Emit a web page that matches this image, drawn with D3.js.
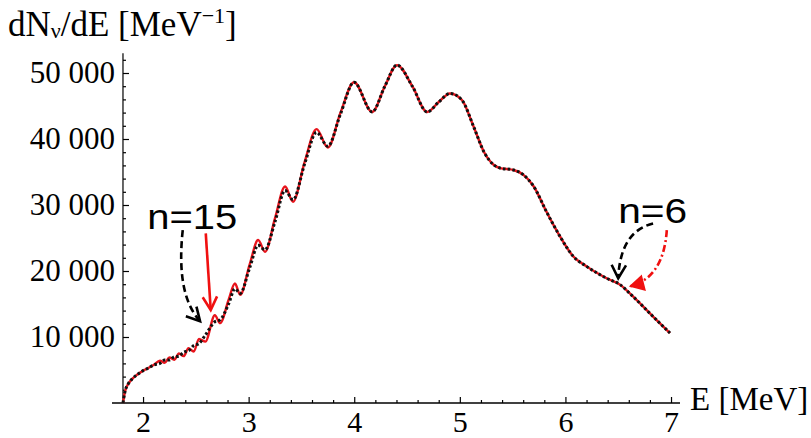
<!DOCTYPE html>
<html>
<head>
<meta charset="utf-8">
<script src="https://cdn.jsdelivr.net/npm/d3@7"></script>
<style>
  body { margin: 0; background: #fff; }
  svg { display: block; }
</style>
</head>
<body>
<svg id="chart" width="811" height="438"></svg>
<script>
// energy grid (MeV) and the two spectra
const energy = [1.81, 1.83, 1.86, 1.90, 1.95, 2.00, 2.05, 2.10, 2.16, 2.205, 2.25, 2.295, 2.34, 2.385, 2.43, 2.48, 2.53, 2.59,
  2.68, 2.73, 2.81, 2.87, 2.92, 3.01, 3.09, 3.155, 3.25, 3.345, 3.42, 3.53, 3.643, 3.75, 3.87, 3.998, 4.17, 4.29, 4.405,
  4.55, 4.69, 4.80, 4.907, 5.02, 5.13, 5.23, 5.32, 5.38, 5.51, 5.60, 5.70, 5.82, 5.95, 6.075, 6.20, 6.39, 6.52, 6.61, 6.83, 6.99];

const redVals = [0, 1800, 2900, 3700, 4350, 4900, 5300, 5750, 6400, 6100, 6900, 6550, 7500, 7100, 8300, 7800, 9700, 9300,
  13300, 12100, 15600, 18100, 16400, 21000, 24700, 22900, 28000, 32800, 30500, 36500, 41500, 38700, 44000, 48600, 44100, 48000, 51200,
  48000, 44100, 45600, 46900, 45900, 41900, 38000, 36100, 35600, 35300, 34600, 32800, 29000, 25200, 22200, 20700, 18900, 17900, 16600, 13100, 10600];

const blackVals = [0, 1800, 2900, 3700, 4350, 4900, 5300, 5750, 6000, 6500, 6500, 7000, 7100, 7700, 7900, 8700, 9000, 10300,
  12300, 12600, 15000, 17300, 16600, 20500, 23900, 23200, 27500, 32200, 30800, 36200, 41000, 38900, 43800, 48600, 44100, 48000, 51200,
  48000, 44100, 45600, 46900, 45900, 41900, 38000, 36100, 35600, 35300, 34600, 32800, 29000, 25200, 22200, 20700, 18900, 17900, 16600, 13100, 10600];

const yTicks = [10000, 20000, 30000, 40000, 50000];
const xTicks = [2, 3, 4, 5, 6, 7];

const svg = d3.select("#chart");
const serif = "'Liberation Serif', 'Times New Roman', serif";
const sans = "'Liberation Sans', Arial, sans-serif";

const x = d3.scaleLinear().domain([1.706, 7.085]).range([112, 680]);
const y = d3.scaleLinear().domain([0, 53000]).range([403, 53.2]);
const originE = 1.81;

// axes -------------------------------------------------------------
const gx = svg.append("g").attr("transform", `translate(0, ${y(0)})`);
gx.call(d3.axisBottom(x).tickValues(xTicks).tickSize(-6).tickPadding(8).tickFormat(d3.format("d")));
gx.append("g").call(d3.axisBottom(x)
  .tickValues(d3.range(2.2, 7, 0.2).filter(v => Math.abs(v - Math.round(v)) > 0.01))
  .tickSize(-3).tickFormat(""));
gx.selectAll(".domain").remove();
gx.append("line").attr("x1", x.range()[0]).attr("x2", x.range()[1]).attr("stroke", "#000").attr("stroke-width", 1.5);

const gy = svg.append("g").attr("transform", `translate(${x(originE)}, 0)`);
gy.call(d3.axisLeft(y).tickValues(yTicks).tickSize(-6).tickPadding(8)
  .tickFormat(d => d3.format(",")(d).replace(",", " ")));
gy.append("g").call(d3.axisLeft(y)
  .tickValues(d3.range(2000, 53000, 2000).filter(v => v % 10000 !== 0))
  .tickSize(-3).tickFormat(""));
gy.selectAll(".domain").remove();
gy.append("line").attr("y1", y(0)).attr("y2", y.range()[1]).attr("stroke", "#000").attr("stroke-width", 1.2);

svg.selectAll(".tick line").attr("stroke", "#000").attr("stroke-width", 1.2);
svg.selectAll(".tick text").attr("font-family", serif).attr("font-size", 31).attr("fill", "#000");
gx.selectAll(".tick text").attr("font-size", 30);

// axis titles
const title = svg.append("text").attr("x", 8).attr("y", 36)
  .attr("font-family", serif).attr("font-size", 35).attr("fill", "#000");
title.append("tspan").text("dN");
title.append("tspan").attr("font-size", 22).attr("dy", 2).text("ν");
title.append("tspan").attr("dy", -2).text("/dE [MeV");
title.append("tspan").attr("font-size", 22).attr("dy", -13).text("−1");
title.append("tspan").attr("dy", 13).text("]");

svg.append("text").attr("x", 690).attr("y", 410)
  .attr("font-family", serif).attr("font-size", 33).attr("fill", "#000")
  .text("E [MeV]");

// curves -----------------------------------------------------------
const line = d3.line().x(d => x(d[0])).y(d => y(d[1])).curve(d3.curveMonotoneX);

svg.append("path").datum(energy.map((e, i) => [e, redVals[i]]))
  .attr("d", line).attr("fill", "none").attr("stroke", "#e8141c").attr("stroke-width", 2.4);

svg.append("path").datum(energy.map((e, i) => [e, blackVals[i]]))
  .attr("d", line).attr("fill", "none").attr("stroke", "#111").attr("stroke-width", 3)
  .attr("stroke-dasharray", "2.6,2.2");

// annotations ------------------------------------------------------
const labels = [
  { text: "n=15", e: 2.04, v: 26400, len: 90 },
  { text: "n=6", e: 6.5, v: 27300, len: 69 }
];
svg.selectAll(".ann").data(labels).enter().append("text")
  .attr("class", "ann")
  .attr("x", d => x(d.e)).attr("y", d => y(d.v))
  .attr("font-family", sans).attr("font-size", 35).attr("fill", "#000")
  .attr("textLength", d => d.len).attr("lengthAdjust", "spacingAndGlyphs")
  .text(d => d.text);

// arrows as [start, control, tip] in data units
const arrows = [
  { pts: [[2.376, 26200], [2.31, 16400], [2.540, 12400]], color: "#000", dash: "7,4", head: "open" },
  { pts: [[2.594, 25700], [2.617, 20000], [2.641, 14100]], color: "#f01010", dash: null, head: "open" },
  { pts: [[6.83, 27200], [6.52, 26000], [6.50, 18900]], color: "#000", dash: "7,4", head: "open" },
  { pts: [[6.96, 26200], [6.93, 19000], [6.615, 17700]], color: "#f01010", dash: "7,3,2,3", head: "filled" }
];

arrows.forEach(a => {
  const p = a.pts.map(d => [x(d[0]), y(d[1])]);
  const path = d3.path();
  path.moveTo(p[0][0], p[0][1]);
  path.quadraticCurveTo(p[1][0], p[1][1], p[2][0], p[2][1]);
  const s = svg.append("path").attr("d", path.toString()).attr("fill", "none")
    .attr("stroke", a.color).attr("stroke-width", 2.6);
  if (a.dash) s.attr("stroke-dasharray", a.dash);

  // arrow head from the tangent at the tip
  const dx = p[2][0] - p[1][0], dy = p[2][1] - p[1][1];
  const ang = Math.atan2(dy, dx);
  const L = 15, spread = 0.5;
  const h1 = [p[2][0] - L * Math.cos(ang - spread), p[2][1] - L * Math.sin(ang - spread)];
  const h2 = [p[2][0] - L * Math.cos(ang + spread), p[2][1] - L * Math.sin(ang + spread)];
  if (a.head === "filled") {
    svg.append("path").attr("d", `M${h1}L${p[2]}L${h2}Z`).attr("fill", a.color).attr("stroke", a.color)
      .attr("stroke-width", 1.5);
  } else {
    svg.append("path").attr("d", `M${h1}L${p[2]}L${h2}`).attr("fill", "none").attr("stroke", a.color)
      .attr("stroke-width", 2.6);
  }
});
</script>
</body>
</html>
